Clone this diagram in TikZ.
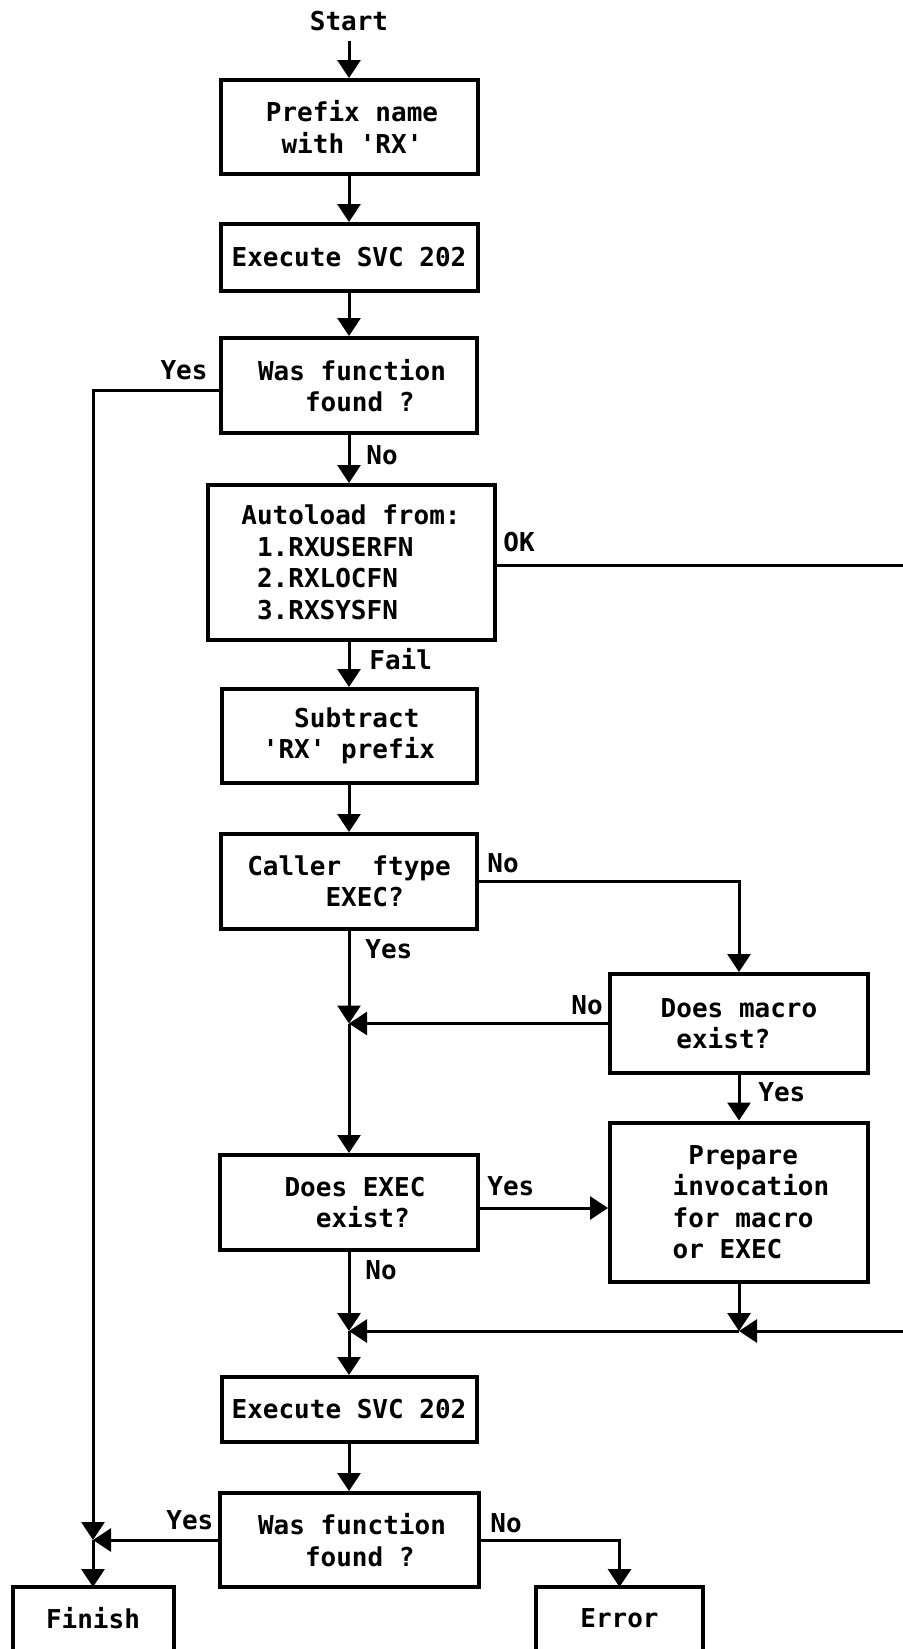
\documentclass[tikz,border=0pt]{standalone}
\usepackage{fontspec}
\setmonofont{DejaVu Sans Mono}
\usetikzlibrary{arrows.meta}
\newcommand{\q}{\textquotesingle}
\newcommand{\ind}{\hspace*{6pt}}
\begin{document}
\begin{tikzpicture}[x=0.5pt,y=-0.5pt,
  every node/.style={font=\ttfamily\bfseries\fontsize{13}{15.75}\selectfont},
  box/.style={draw, line width=2pt, inner sep=0pt, align=left},
  lbl/.style={inner sep=0pt},
  conn/.style={line width=1.5pt},
  arr/.style={conn, -{Triangle[length=9pt,width=11.5pt]}}]
\useasboundingbox (0,0) rectangle (903,1649);

% nodes
\node[lbl] (start) at (349,21) {Start};
\node[box, minimum width=128.5pt, minimum height=47pt] (b1) at (349,127) {\hspace*{3pt}Prefix name\\\hspace*{3pt} with \q RX\q};
\node[box, minimum width=128.5pt, minimum height=33.5pt] (b2) at (349,257.5) {Execute SVC 202};
\node[box, minimum width=128pt, minimum height=47.5pt] (b3) at (349,385.5) {\hspace*{3pt}Was function\\\hspace*{3pt}\phantom{000}found ?};
\node[box, minimum width=143.5pt, minimum height=77.5pt] (b4) at (351,562.5) {Autoload from:\\\phantom{0}1.RXUSERFN\\\phantom{0}2.RXLOCFN\\\phantom{0}3.RXSYSFN};
\node[box, minimum width=127.5pt, minimum height=47pt] (b5) at (349,736) {\phantom{00}Subtract\\\q RX\q{} prefix};
\node[box, minimum width=128pt, minimum height=47.5pt] (b6) at (349,881.5) {Caller\ \ ftype\\\phantom{00000}EXEC?};
\node[box, minimum width=129pt, minimum height=49.5pt] (b7) at (739,1023.5) {Does macro\\\phantom{0}exist?};
\node[box, minimum width=129pt, minimum height=79.5pt] (b9) at (739,1202) {\ind\ind\phantom{0}Prepare\\\ind\ind invocation\\\ind\ind for macro\\\ind\ind or EXEC};
\node[box, minimum width=129pt, minimum height=47.5pt] (b8) at (349,1202.5) {\ind Does EXEC\\\ind\phantom{00}exist?};
\node[box, minimum width=127.5pt, minimum height=32.5pt] (b10) at (349,1409.5) {Execute SVC 202};
\node[box, minimum width=129.5pt, minimum height=47pt] (b11) at (349,1540) {\hspace*{3pt}Was function\\\hspace*{3pt}\phantom{000}found ?};
\node[inner sep=0pt, outer sep=0pt, minimum width=80.5pt, minimum height=31pt] (fin) at (93,1618) {Finish};
\node[inner sep=0pt, outer sep=0pt, minimum width=83.5pt, minimum height=31pt] (err) at (619.5,1618) {Error};
\draw[line width=2pt] (fin.south west) -- (fin.north west) -- (fin.north east) -- (fin.south east);
\draw[line width=2pt] (err.south west) -- (err.north west) -- (err.north east) -- (err.south east);

% coordinates
\coordinate (j1) at (349,1023.5);
\coordinate (j2) at (349,1331);
\coordinate (j3) at (739,1331);
\coordinate (j4) at (93,1540);
\coordinate (okr) at (903,565);
\coordinate (mr) at (903,1331);
\coordinate (y3) at ([yshift=-2.5pt]b3.west);
\coordinate (y8) at ([yshift=-2.75pt]b8.east);

% connectors
\draw[arr] ([yshift=-5pt]start.south) -- (b1.north);
\draw[arr] (b1.south) -- (b2.north);
\draw[arr] (b2.south) -- (b3.north);
\draw[arr] (b3.south) -- (b3.south |- b4.north);
\draw[arr] (y3) -| (j4);
\draw[conn] (b4.east |- okr) -- (okr);
\draw[arr] (b4.south -| b5.north) -- (b5.north);
\draw[arr] (b5.south) -- (b6.north);
\draw[arr] (b6.east) -| (b7.north);
\draw[arr] (b6.south) -- (j1);
\draw[arr] (b7.west) -- (j1);
\draw[arr] (j1) -- (b8.north);
\draw[arr] (b7.south) -- (b9.north);
\draw[arr] (y8) -- (y8 -| b9.west);
\draw[arr] (b8.south) -- (j2);
\draw[arr] (b9.south) -- (j3);
\draw[arr] (mr) -- (j3);
\draw[arr] (j3) -- (j2);
\draw[arr] (j2) -- (b10.north);
\draw[arr] (b10.south) -- (b11.north);
\draw[arr] (b11.west) -- (j4);
\draw[arr] (j4) -- (fin.north);
\draw[arr] (b11.east) -| (err.north);

% labels
\node[lbl] (l1) at (184,370) {Yes};
\node[lbl, anchor=west] (l2) at (366,455) {No};
\node[lbl, anchor=west] (l3) at (503,542) {OK};
\node[lbl, anchor=west] (l4) at (369,659) {Fail};
\node[lbl, anchor=west] (l5) at (487,863) {No};
\node[lbl, anchor=west] (l6) at (365,949) {Yes};
\node[lbl, anchor=west] (l7) at (571,1005) {No};
\node[lbl, anchor=west] (l8) at (758,1092) {Yes};
\node[lbl, anchor=west] (l9) at (487,1186) {Yes};
\node[lbl, anchor=west] (l10) at (365,1270) {No};
\node[lbl, anchor=west] (l11) at (166,1520) {Yes};
\node[lbl, anchor=west] (l12) at (490,1523) {No};
\end{tikzpicture}
\end{document}
